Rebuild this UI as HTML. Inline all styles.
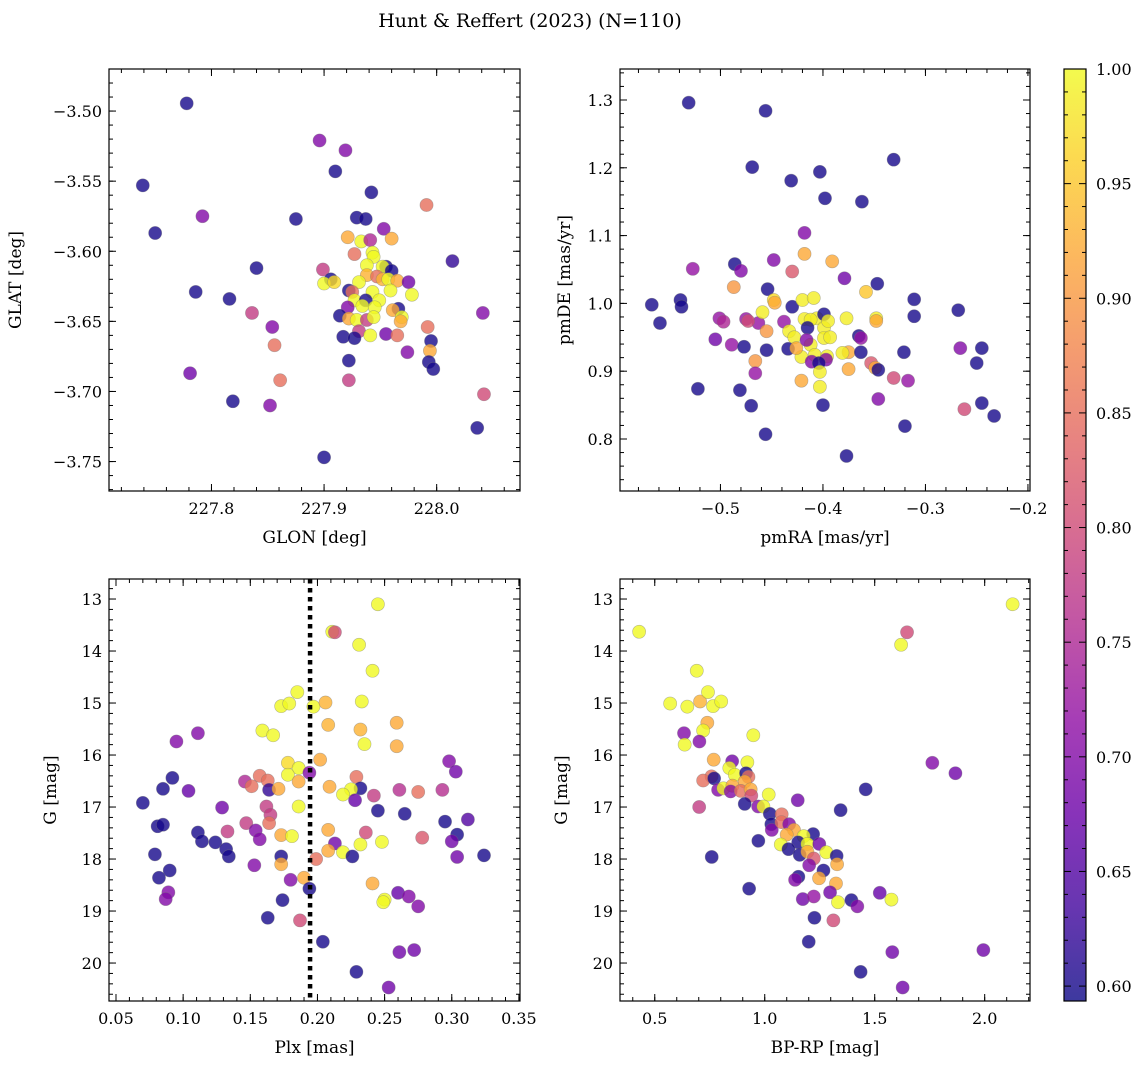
<!DOCTYPE html>
<html><head><meta charset="utf-8"><style>
html,body{margin:0;padding:0;background:#fff}
svg{display:block;font-family:"DejaVu Serif","Liberation Serif",serif}
</style></head><body>
<svg id="fig" width="1148" height="1068" viewBox="0 0 1148 1068" xmlns="http://www.w3.org/2000/svg">
<text x="530" y="27" font-size="19" text-anchor="middle">Hunt &amp; Reffert (2023) (N=110)</text>
</svg>
<script>
// ---- data ----
const p1Glon=[227.778,227.739,227.750,227.792,227.786,227.781,227.819,227.816,227.840,227.836,227.854,227.856,227.861,227.852,227.875,227.896,227.919,227.910,227.942,227.929,227.937,227.953,227.991,228.014,227.921,227.933,227.941,227.960,227.927,227.943,227.944,227.899,227.906,227.900,227.909,227.938,227.938,227.955,227.952,227.960,227.947,227.952,227.957,227.965,227.975,227.931,227.922,227.925,227.943,227.959,227.978,227.927,227.949,227.937,227.934,227.921,227.945,227.966,227.961,227.969,227.914,227.922,227.929,227.938,227.944,227.968,227.931,227.941,227.917,227.927,227.955,227.965,227.992,227.995,227.994,227.974,227.993,227.997,227.922,227.922,227.900,228.041,228.042,228.036];
const p1Glat=[-3.4945,-3.553,-3.587,-3.575,-3.629,-3.687,-3.707,-3.634,-3.612,-3.644,-3.654,-3.667,-3.692,-3.710,-3.577,-3.521,-3.528,-3.543,-3.558,-3.576,-3.577,-3.584,-3.567,-3.607,-3.590,-3.593,-3.592,-3.591,-3.602,-3.601,-3.604,-3.613,-3.620,-3.623,-3.622,-3.610,-3.617,-3.611,-3.611,-3.614,-3.618,-3.620,-3.620,-3.621,-3.622,-3.622,-3.628,-3.629,-3.629,-3.628,-3.631,-3.635,-3.635,-3.635,-3.639,-3.640,-3.640,-3.641,-3.642,-3.647,-3.646,-3.648,-3.649,-3.649,-3.647,-3.650,-3.657,-3.660,-3.661,-3.662,-3.659,-3.660,-3.654,-3.664,-3.671,-3.672,-3.679,-3.684,-3.678,-3.692,-3.747,-3.644,-3.702,-3.726];
const p1Prob=[.6,.6,.6,.7,.6,.68,.6,.6,.6,.78,.7,.85,.85,.7,.6,.7,.7,.6,.6,.6,.6,.7,.85,.62,.92,1,.75,.92,.85,1,1,.78,.6,1,.97,1,.93,.6,1,.6,.85,.93,1,.92,.68,1,.6,.85,1,1,1,1,1,.6,1,.7,1,.6,.92,1,.6,.92,1,.78,1,.92,.78,1,.6,.6,.68,.85,.85,.6,.92,.7,.6,.6,.6,.78,.6,.7,.8,.6];

const p2Pmra=[-.531,-.456,-.469,-.431,-.403,-.398,-.331,-.362,-.418,-.418,-.527,-.486,-.480,-.448,-.430,-.391,-.379,-.347,-.567,-.559,-.539,-.538,-.454,-.487,-.505,-.501,-.497,-.489,-.475,-.477,-.463,-.473,-.459,-.455,-.466,-.466,-.455,-.481,-.470,-.456,-.522,-.448,-.430,-.447,-.438,-.420,-.409,-.406,-.399,-.399,-.395,-.418,-.412,-.415,-.412,-.408,-.433,-.428,-.434,-.421,-.426,-.396,-.397,-.411,-.404,-.403,-.403,-.421,-.416,-.399,-.393,-.377,-.375,-.381,-.365,-.363,-.358,-.348,-.348,-.375,-.363,-.400,-.377,-.353,-.349,-.346,-.346,-.331,-.317,-.321,-.311,-.311,-.320,-.266,-.268,-.262,-.250,-.245,-.245,-.233];
const p2Pmde=[1.296,1.284,1.201,1.181,1.194,1.155,1.212,1.150,1.104,1.073,1.051,1.058,1.048,1.064,1.047,1.062,1.037,1.029,.998,.971,1.005,.995,1.021,1.024,.947,.978,.973,.939,.977,.936,.971,.974,.987,.959,.915,.897,.931,.872,.849,.807,.874,1.005,.995,1.001,.973,1.005,1.008,.978,.984,.964,.974,.977,.976,.964,.939,.924,.959,.950,.933,.921,.934,.922,.917,.914,.912,.899,.877,.886,.946,.949,.950,.978,.928,.927,.952,.949,1.017,.978,.974,.903,.928,.850,.775,.912,.905,.902,.859,.890,.886,.928,1.006,.981,.819,.934,.990,.844,.912,.934,.853,.834];
const p2Prob=[.6,.6,.6,.6,.6,.6,.6,.6,.7,.92,.72,.6,.7,.7,.82,.92,.68,.6,.6,.6,.6,.6,.6,.9,.68,.72,.75,.72,.72,.6,.72,.8,.99,.9,.9,.72,.6,.6,.6,.6,.6,.97,.6,.92,.72,.99,.99,.99,.6,.99,.99,.99,.99,.6,.99,.99,.99,.99,.6,.99,.92,.99,.7,.7,.6,.99,.99,.92,.7,.99,.99,.99,.92,.99,.6,.72,.95,.99,.92,.92,.6,.6,.6,.82,.92,.6,.7,.8,.72,.6,.6,.6,.6,.7,.6,.8,.6,.6,.6,.6];

const p3Plx=[.245,.211,.213,.231,.241,.185,.173,.179,.197,.206,.233,.159,.167,.208,.232,.235,.259,.259,.095,.111,.298,.303,.178,.186,.178,.194,.202,.186,.157,.163,.146,.151,.164,.171,.092,.085,.104,.070,.129,.162,.165,.164,.147,.133,.154,.157,.111,.114,.124,.081,.085,.132,.134,.079,.090,.082,.089,.087,.153,.173,.181,.173,.173,.186,.190,.180,.194,.174,.163,.187,.199,.209,.229,.232,.225,.219,.228,.242,.245,.265,.261,.275,.293,.208,.236,.213,.208,.219,.232,.248,.226,.278,.295,.312,.304,.300,.304,.324,.241,.250,.249,.260,.268,.275,.204,.261,.272,.229,.253];
const p3G=[13.10,13.63,13.64,13.88,14.38,14.79,15.06,15.01,15.07,14.99,14.97,15.53,15.62,15.42,15.51,15.79,15.38,15.83,15.74,15.58,16.12,16.32,16.15,16.25,16.38,16.34,16.09,16.51,16.40,16.49,16.51,16.60,16.67,16.65,16.44,16.65,16.69,16.92,17.01,16.99,17.15,17.31,17.31,17.47,17.45,17.62,17.49,17.66,17.68,17.37,17.34,17.81,17.95,17.91,18.22,18.36,18.64,18.77,18.12,17.54,17.56,17.95,18.10,16.99,18.36,18.40,18.57,18.79,19.13,19.18,18.00,16.61,16.42,16.64,16.66,16.76,16.87,16.78,17.07,17.13,16.67,16.71,16.67,17.44,17.49,17.70,17.84,17.87,17.72,17.67,17.95,17.59,17.28,17.24,17.53,17.66,17.96,17.93,18.47,18.78,18.83,18.65,18.72,18.91,19.59,19.79,19.75,20.17,20.47];
const p3Prob=[1,1,.8,1,1,1,1,1,1,.93,1,1,1,.93,.93,1,.92,.92,.7,.7,.7,.68,.97,1,1,.7,.92,.92,.85,.85,.75,.85,.62,.92,.6,.6,.67,.6,.68,.78,.78,.85,.78,.78,.7,.7,.6,.6,.6,.6,.6,.6,.6,.6,.6,.6,.7,.7,.7,.92,1,.6,.92,1,.92,.7,.6,.6,.6,.8,.85,.92,.85,.6,1,1,.67,.78,.6,.6,.76,.85,.76,.92,.8,.68,.92,1,1,1,.6,.82,.6,.65,.6,.68,.68,.6,.92,1,1,.67,.7,.7,.6,.68,.68,.6,.68];

const p4Bprp=[.429,2.127,1.647,1.620,.691,.570,.648,.706,.742,.765,.802,.739,.720,.633,.703,.636,.948,.768,1.762,1.867,.852,.921,.839,.864,.915,.926,.758,.720,.770,.909,.788,.812,.853,.845,.891,.936,.939,1.018,1.459,1.150,.702,.909,.970,.994,1.023,1.345,1.077,1.030,1.032,1.076,1.111,1.133,1.100,1.220,1.177,1.152,1.194,1.248,1.073,1.108,.971,.759,1.159,1.194,1.223,1.280,1.327,1.329,1.202,1.267,1.247,1.324,1.153,1.138,.929,1.297,1.173,1.223,1.333,1.394,1.421,1.523,1.576,1.226,1.312,1.200,1.580,1.994,1.436,1.627];
const p4G=[13.63,13.10,13.64,13.88,14.38,15.01,15.07,14.97,14.79,15.06,14.97,15.38,15.53,15.58,15.74,15.80,15.62,16.09,16.15,16.35,16.12,16.14,16.25,16.38,16.35,16.42,16.41,16.49,16.45,16.51,16.67,16.64,16.59,16.70,16.69,16.66,16.78,16.76,16.66,16.87,17.00,16.94,16.99,16.99,17.13,17.06,17.14,17.33,17.44,17.29,17.33,17.44,17.53,17.52,17.56,17.68,17.71,17.71,17.72,17.81,17.65,17.96,17.92,17.86,17.99,17.87,17.94,18.10,18.12,18.22,18.37,18.47,18.34,18.40,18.57,18.64,18.77,18.72,18.83,18.79,18.91,18.65,18.78,19.13,19.18,19.59,19.79,19.75,20.17,20.47];
const p4Prob=[1,1,.8,1,1,1,1,.93,1,1,1,.92,1,.7,.7,1,1,.92,.7,.68,.68,1,1,1,.6,.85,.85,.85,.6,.92,.7,1,.92,.7,.85,.92,.8,1,.6,.68,.78,.6,.7,1,.6,.6,.85,.6,.7,.85,.7,.92,.92,.6,1,.6,1,.68,1,.6,.6,.6,.6,.92,.82,1,.6,.92,.7,.6,.92,.92,.6,.7,.6,.68,.68,.72,1,.6,.7,.67,1,.6,.8,.6,.68,.68,.6,.68];

const cbTicks=[0.60,0.65,0.70,0.75,0.80,0.85,0.90,0.95,1.00];
const VMIN=0.5935, VMAX=1.0;

// ---- helpers ----
const NS="http://www.w3.org/2000/svg";
const svg=document.getElementById('fig');
function mk(tag,attrs,parent){const e=document.createElementNS(NS,tag);for(const k in attrs)e.setAttribute(k,attrs[k]);(parent||svg).appendChild(e);return e;}
const plasma=["#0d0887","#41049d","#6a00a8","#8f0da4","#b12a90","#cc4778","#e16462","#f2844b","#fca636","#fcce25","#f0f921"];
function hex(h){return [parseInt(h.slice(1,3),16),parseInt(h.slice(3,5),16),parseInt(h.slice(5,7),16)];}
function cmap(v){let t=(v-VMIN)/(VMAX-VMIN);t=Math.max(0,Math.min(1,t));const f=t*10,i=Math.min(9,Math.floor(f)),r=f-i;const a=hex(plasma[i]),b=hex(plasma[i+1]);return "rgb("+a.map((c,k)=>Math.round(c+(b[k]-c)*r)).join(",")+")";}
function fmt(v,d){return (v<-1e-9?"\u2212":"")+Math.abs(v).toFixed(d);}

function panel(cfg){
  const g=mk('g',{});
  
  
  const {x0,x1,y0,y1}=cfg;
  const sx=v=>x0+(v-cfg.xmin)/(cfg.xmax-cfg.xmin)*(x1-x0);
  const sy=v=>cfg.yinv? y0+(v-cfg.ymin)/(cfg.ymax-cfg.ymin)*(y1-y0) : y1-(v-cfg.ymin)/(cfg.ymax-cfg.ymin)*(y1-y0);
  for(let i=0;i<cfg.xs.length;i++){
    const c=mk('circle',{cx:sx(cfg.xs[i]),cy:sy(cfg.ys[i]),r:6.6,fill:cmap(cfg.ps[i]),'fill-opacity':0.8,stroke:'#777','stroke-opacity':0.5,'stroke-width':0.6},g);
    
    
  }
  if(cfg.vline!==undefined){
    const l=mk('line',{x1:sx(cfg.vline),x2:sx(cfg.vline),y1:y0,y2:y1,stroke:'#000','stroke-width':4.5,'stroke-dasharray':'4.5 4.5'},g);
    
    
  }
  const tg=mk('g',{stroke:'#000','stroke-width':1},g);
  function ticksX(step,len,labels){
    const s=Math.ceil((cfg.xmin-1e-9)/step),e=Math.floor((cfg.xmax+1e-9)/step);
    for(let k=s;k<=e;k++){const v=k*step,X=sx(v);
      mk('line',{x1:X,x2:X,y1:y1,y2:y1-len},tg);mk('line',{x1:X,x2:X,y1:y0,y2:y0+len},tg);
      if(labels){const t=mk('text',{x:X,y:y1+23,'font-size':16,'text-anchor':'middle'},g);t.textContent=fmt(v,cfg.xd);
        }}
  }
  function ticksY(step,len,labels){
    const s=Math.ceil((cfg.ymin-1e-9)/step),e=Math.floor((cfg.ymax+1e-9)/step);
    for(let k=s;k<=e;k++){const v=k*step,Y=sy(v);
      mk('line',{x1:x0,x2:x0+len,y1:Y,y2:Y},tg);mk('line',{x1:x1,x2:x1-len,y1:Y,y2:Y},tg);
      if(labels){const t=mk('text',{x:x0-7,y:Y+6,'font-size':16,'text-anchor':'end'},g);t.textContent=fmt(v,cfg.yd);
        }}
  }
  ticksX(cfg.xmaj,7,true);ticksX(cfg.xmin_,4,false);
  ticksY(cfg.ymaj,7,true);ticksY(cfg.ymin_,4,false);
  const fr=mk('rect',{x:x0,y:y0,width:x1-x0,height:y1-y0,fill:'none',stroke:'#000','stroke-width':1.2},g);
  
  const xl=mk('text',{x:(x0+x1)/2,y:y1+52,'font-size':17,'text-anchor':'middle'},g);xl.textContent=cfg.xlabel;
  
  const yc=(y0+y1)/2,yx=cfg.ylx;
  const yl=mk('text',{x:yx,y:yc,'font-size':17,'text-anchor':'middle',transform:`rotate(-90 ${yx} ${yc})`},g);yl.textContent=cfg.ylabel;
  
}

panel({name:'glon-glat-panel',x0:109,x1:520,y0:69,y1:491,xmin:227.709,xmax:228.074,ymin:-3.771,ymax:-3.470,xs:p1Glon,ys:p1Glat,ps:p1Prob,xmaj:0.1,xmin_:0.02,ymaj:0.05,ymin_:0.01,xd:1,yd:2,xlabel:'GLON [deg]',ylabel:'GLAT [deg]',ylx:21});
panel({name:'proper-motion-panel',x0:620,x1:1030,y0:69,y1:491,xmin:-0.598,xmax:-0.198,ymin:0.7233,ymax:1.3457,xs:p2Pmra,ys:p2Pmde,ps:p2Prob,xmaj:0.1,xmin_:0.02,ymaj:0.1,ymin_:0.02,xd:1,yd:1,xlabel:'pmRA [mas/yr]',ylabel:'pmDE [mas/yr]',ylx:570});
panel({name:'parallax-mag-panel',x0:109,x1:520,y0:579,y1:1001,xmin:0.0448,xmax:0.3508,ymin:12.615,ymax:20.73,yinv:true,xs:p3Plx,ys:p3G,ps:p3Prob,vline:0.1945,xmaj:0.05,xmin_:0.01,ymaj:1,ymin_:0.2,xd:2,yd:0,xlabel:'Plx [mas]',ylabel:'G [mag]',ylx:56});
panel({name:'cmd-panel',x0:620,x1:1030,y0:579,y1:1001,xmin:0.342,xmax:2.206,ymin:12.615,ymax:20.73,yinv:true,xs:p4Bprp,ys:p4G,ps:p4Prob,xmaj:0.5,xmin_:0.1,ymaj:1,ymin_:0.2,xd:1,yd:0,xlabel:'BP-RP [mag]',ylabel:'G [mag]',ylx:567});

// ---- colorbar ----
(function(){
  const cx0=1064,cx1=1086,cy0=69,cy1=1001;
  const g=mk('g',{});
  
  
  const defs=mk('defs',{},g);
  const lg=mk('linearGradient',{id:'cbg',x1:0,y1:1,x2:0,y2:0},defs);
  plasma.forEach((c,i)=>mk('stop',{offset:(i/10),'stop-color':c},lg));
  const r=mk('rect',{x:cx0,y:cy0,width:cx1-cx0,height:cy1-cy0,fill:'url(#cbg)','fill-opacity':0.8},g);
  
  const sy=v=>cy1-(v-VMIN)/(VMAX-VMIN)*(cy1-cy0);
  for(let k=60;k<=100;k++){const v=k/100,Y=sy(v);if(Y<cy0-0.5)continue;
    const len=(k%5===0)?7:4;
    mk('line',{x1:cx1,x2:cx1-len,y1:Y,y2:Y,stroke:'#000','stroke-width':1},g);
    mk('line',{x1:cx0,x2:cx0+len,y1:Y,y2:Y,stroke:'#000','stroke-width':1},g);}
  cbTicks.forEach(v=>{const t=mk('text',{x:cx1+10,y:sy(v)+6,'font-size':16},g);t.textContent=v.toFixed(2);
    });
  mk('rect',{x:cx0,y:cy0,width:cx1-cx0,height:cy1-cy0,fill:'none',stroke:'#000','stroke-width':1.2},g);
})();
</script>
</body></html>
